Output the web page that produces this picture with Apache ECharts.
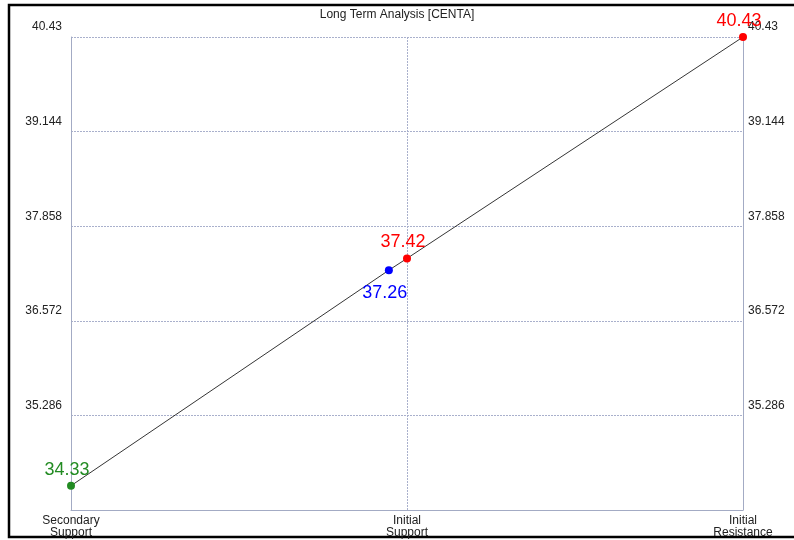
<!DOCTYPE html>
<html><head><meta charset="utf-8">
<script src="https://cdn.jsdelivr.net/npm/echarts@6/dist/echarts.min.js"></script>
<style>html,body{margin:0;padding:0;background:#fff}#c{width:794px;height:540px}</style>
</head><body><div id="c"></div>
<script>
const titleText = 'Long Term Analysis [CENTA]';
const categories = ['Secondary\nSupport', 'Initial\nSupport', 'Initial\nResistance'];
const yTickLabels = ['35.286', '36.572', '37.858', '39.144', '40.43'];
const pointX = [0, 0.946, 1, 2];
const pointY = [34.33, 37.26, 37.42, 40.43];
const pointColors = ['#228b22', '#0000ff', '#ff0000', '#ff0000'];
const labelPos = ['top', 'bottom', 'top', 'top'];

const yMin = 34, yMax = 40.43, yStep = 1.286;

function yFmt(v) {
  let best = null, bd = 1e9;
  for (const t of yTickLabels) { const d = Math.abs(parseFloat(t) - v); if (d < bd) { bd = d; best = t; } }
  return bd < 0.01 ? best : '';
}

const chart = echarts.init(document.getElementById('c'), null, {renderer: 'canvas'});
const axisColor = '#a3abc4';
const font = 'Liberation Sans, Arial, sans-serif';
const yAxisCommon = {
  type: 'value', min: yMin, max: yMax, interval: yStep,
  axisLine: {show: true, lineStyle: {color: axisColor, width: 1}},
  axisTick: {show: false},
  splitLine: {show: true, lineStyle: {color: '#a9b0cc', type: [2, 1], width: 1}},
  axisLabel: {formatter: yFmt, color: '#222', fontSize: 12, fontFamily: font, verticalAlign: 'bottom', padding: [0, 0, 4, 0], showMaxLabel: true, showMinLabel: true}
};
chart.setOption({
  animation: false,
  title: {text: titleText, left: 'center', top: 4, textStyle: {fontSize: 12, fontWeight: 'normal', color: '#222', fontFamily: font}},
  grid: {left: 71, right: 51, top: 37, bottom: 30, containLabel: false},
  xAxis: {
    type: 'value', min: 0, max: 2, interval: 1,
    axisLine: {show: true, onZero: false, lineStyle: {color: axisColor}},
    axisTick: {show: false},
    splitLine: {show: true, lineStyle: {color: '#a9b0cc', type: [2, 1], width: 1}},
    axisLabel: {formatter: v => categories[Math.round(v)] || '', color: '#222', fontSize: 12, fontFamily: font, lineHeight: 12, margin: 5, showMaxLabel: true, showMinLabel: true}
  },
  yAxis: [
    Object.assign({}, yAxisCommon, {position: 'left', axisLabel: Object.assign({}, yAxisCommon.axisLabel, {margin: 9})}),
    Object.assign({}, yAxisCommon, {position: 'right', splitLine: {show: false}, axisLabel: Object.assign({}, yAxisCommon.axisLabel, {margin: 5})})
  ],
  graphic: [{type: 'rect', shape: {x: 9, y: 5, width: 800, height: 532}, style: {fill: 'none', stroke: '#000', lineWidth: 2.5}, silent: true}],
  series: [{
    type: 'line', yAxisIndex: 0,
    data: pointX.map((x, i) => ({
      value: [x, pointY[i]],
      itemStyle: {color: pointColors[i]},
      label: {show: true, position: labelPos[i], color: pointColors[i], fontSize: 18, fontFamily: font,
              distance: labelPos[i] === 'bottom' ? 10 : 3, offset: [-4, 0], formatter: () => pointY[i].toFixed(2)}
    })),
    lineStyle: {color: '#000', width: 0.8},
    symbol: 'circle', symbolSize: 8, showSymbol: true
  }]
});
</script></body></html>
